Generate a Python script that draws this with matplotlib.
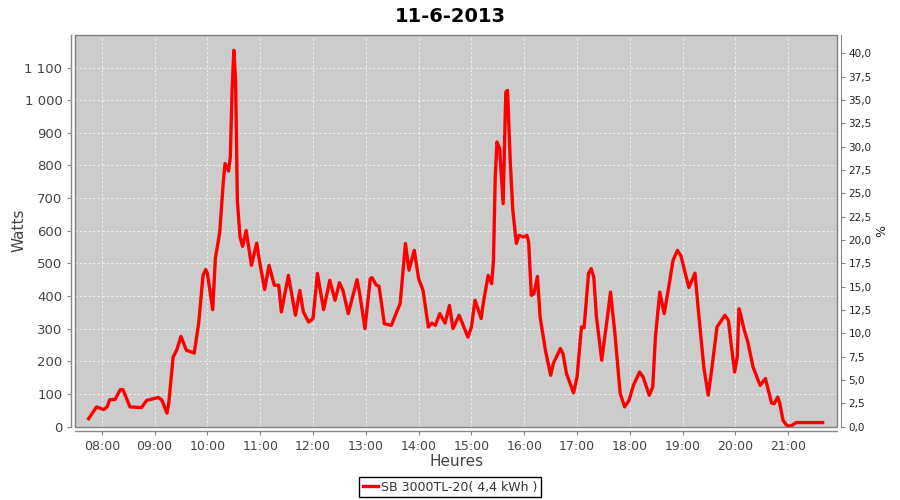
import matplotlib
matplotlib.use("Agg")
import matplotlib.pyplot as plt
from matplotlib.ticker import FixedLocator, FuncFormatter
from matplotlib.patches import Rectangle

title = "11-6-2013"
series_name = "SB 3000TL-20( 4,4 kWh )"

times = [
    "07:45", "07:54", "08:02", "08:06", "08:09", "08:15", "08:21", "08:24", "08:32", "08:45",
    "08:51", "09:04", "09:08", "09:14", "09:16", "09:21", "09:25", "09:30", "09:36", "09:45",
    "09:50", "09:55", "09:58", "10:00", "10:06", "10:09", "10:14", "10:18", "10:20", "10:24",
    "10:26", "10:28", "10:30", "10:32", "10:34", "10:37", "10:40", "10:44", "10:50", "10:56",
    "10:59", "11:05", "11:10", "11:16", "11:21", "11:24", "11:32", "11:40", "11:45", "11:49",
    "11:55", "12:00", "12:05", "12:12", "12:19", "12:25", "12:30", "12:34", "12:40", "12:50",
    "12:53", "12:59", "13:05", "13:07", "13:12", "13:15", "13:21", "13:29", "13:35", "13:39",
    "13:45", "13:49", "13:55", "14:00", "14:05", "14:11", "14:15", "14:19", "14:24", "14:30",
    "14:35", "14:39", "14:46", "14:56", "15:00", "15:04", "15:11", "15:14", "15:19", "15:23",
    "15:25", "15:27", "15:29", "15:32", "15:36", "15:39", "15:41", "15:44", "15:47", "15:51",
    "15:54", "15:59", "16:03", "16:05", "16:08", "16:11", "16:15", "16:18", "16:24", "16:30",
    "16:33", "16:41", "16:44", "16:48", "16:56", "17:00", "17:05", "17:08", "17:13", "17:16",
    "17:19", "17:22", "17:28", "17:33", "17:38", "17:43", "17:49", "17:54", "17:59", "18:04",
    "18:11", "18:15", "18:22", "18:26", "18:29", "18:34", "18:39", "18:44", "18:49", "18:54",
    "18:58", "19:07", "19:14", "19:18", "19:24", "19:29", "19:33", "19:39", "19:48", "19:52",
    "19:55", "19:59", "20:02", "20:04", "20:06", "20:10", "20:14", "20:20", "20:28", "20:34",
    "20:41", "20:44", "20:48", "20:50", "20:54", "20:58", "21:02", "21:09", "21:39",
]
watts = [
    24, 60, 52, 60, 82, 83, 113, 113, 60, 58,
    80, 89, 82, 41, 70, 213, 234, 276, 234, 225,
    315, 463, 481, 469, 358, 515, 596, 749, 806, 783,
    826, 1030, 1153, 1061, 693, 581, 552, 601, 494, 562,
    509, 420, 494, 433, 433, 351, 463, 341, 417, 351,
    320, 331, 469, 358, 448, 387, 441, 417, 346, 450,
    407, 300, 453, 456, 433, 430, 315, 310, 351, 377,
    561, 479, 540, 453, 417, 305, 317, 310, 346, 317,
    371, 300, 341, 274, 305, 387, 331, 387, 463, 438,
    509, 765, 872, 852, 683, 1025, 1030, 816, 663, 561,
    586, 581, 586, 565, 402, 407, 460, 336, 234, 157,
    193, 239, 223, 162, 103, 152, 305, 303, 469, 484,
    458, 336, 203, 305, 412, 285, 101, 60, 80, 126,
    167, 152, 96, 121, 274, 412, 346, 425, 509, 540,
    523, 426, 470, 351, 182, 96, 175, 305, 341, 325,
    254, 167, 213, 361, 341, 295, 259, 182, 126, 147,
    72, 70, 90, 75, 19, 4, 0, 12, 12,
]

hour_ticks = list(range(8, 22))
left_ticks = [0, 100, 200, 300, 400, 500, 600, 700, 800, 900, 1000, 1100]
right_ticks = [0, 2.5, 5, 7.5, 10, 12.5, 15, 17.5, 20, 22.5, 25, 27.5, 30, 32.5, 35, 37.5, 40]


def to_hours(s):
    h, m = s.split(":")
    return int(h) + int(m) / 60.0


x = [to_hours(t) for t in times]

plt.rcParams["font.family"] = ["DejaVu Sans"]
txt = "#444444"
axc = "#888888"

fig = plt.figure(figsize=(9, 5), dpi=100)
ax = fig.add_axes([75 / 900, 1 - 426.5 / 500, (837.3 - 75) / 900, (426.5 - 35) / 500])
ax.set_facecolor("#cccccc")

line, = ax.plot(x, watts, color="#ff0000", lw=2.4, solid_joinstyle="round",
                label=series_name, zorder=3)

ax.set_xlim(7.492, 21.928)
ax.set_ylim(0, 1200)

ax.xaxis.set_major_locator(FixedLocator(hour_ticks))
ax.xaxis.set_major_formatter(FuncFormatter(lambda v, p: "%02d:00" % int(round(v))))
ax.yaxis.set_major_locator(FixedLocator(left_ticks))
ax.yaxis.set_major_formatter(FuncFormatter(
    lambda v, p: ("{:,}".format(int(v))).replace(",", " ")))

ax.grid(True, color="#f0f0f0", linestyle=(0, (2, 2)), lw=0.8, zorder=1)
ax.set_axisbelow(True)

for s in ["top", "right"]:
    ax.spines[s].set_visible(False)
for s in ["left", "bottom"]:
    ax.spines[s].set_position(("outward", 3))
    ax.spines[s].set_color(axc)
    ax.spines[s].set_linewidth(1.0)

ax.add_patch(Rectangle((0, 0), 1, 1, transform=ax.transAxes, fill=False,
                       edgecolor="#808080", lw=1.0, clip_on=False, zorder=4))

ax.tick_params(axis="both", colors=axc, labelcolor=txt, length=3, width=0.8,
               direction="out")
ax.tick_params(axis="y", labelsize=9.5, pad=3)
ax.tick_params(axis="x", labelsize=9, pad=4)

ax.set_xlabel("Heures", fontsize=11, color=txt)
ax.set_ylabel("Watts", fontsize=11, color=txt)
ax.xaxis.set_label_coords(0.5, -0.07)
ax.yaxis.set_label_coords(-0.063, 0.5)

ax2 = ax.twinx()
ax2.set_ylim(0, 41.96)
ax2.yaxis.set_major_locator(FixedLocator(right_ticks))
ax2.yaxis.set_major_formatter(FuncFormatter(lambda v, p: ("%.1f" % v).replace(".", ",")))
for s in ["top", "left", "bottom"]:
    ax2.spines[s].set_visible(False)
ax2.spines["right"].set_position(("outward", 3))
ax2.spines["right"].set_color(axc)
ax2.tick_params(axis="y", colors=axc, labelcolor="#222222", length=3, width=0.8,
                labelsize=7.5, pad=2)
ax2.set_ylabel("%", fontsize=9, color="#222222")
ax2.yaxis.set_label_coords(1.05, 0.5)

fig.suptitle(title, fontsize=14, fontweight="bold", y=0.985, color="#000000")

leg = fig.legend(handles=[line], loc="center", bbox_to_anchor=(0.5, 1 - 487 / 500),
                 frameon=True, fancybox=False, edgecolor="#000000", framealpha=1,
                 fontsize=9, handlelength=1.2, handletextpad=0.2, borderpad=0.3,
                 borderaxespad=0)
leg.get_frame().set_linewidth(1.0)
for t in leg.get_texts():
    t.set_color("#333333")

fig.savefig("out.png", dpi=100)
